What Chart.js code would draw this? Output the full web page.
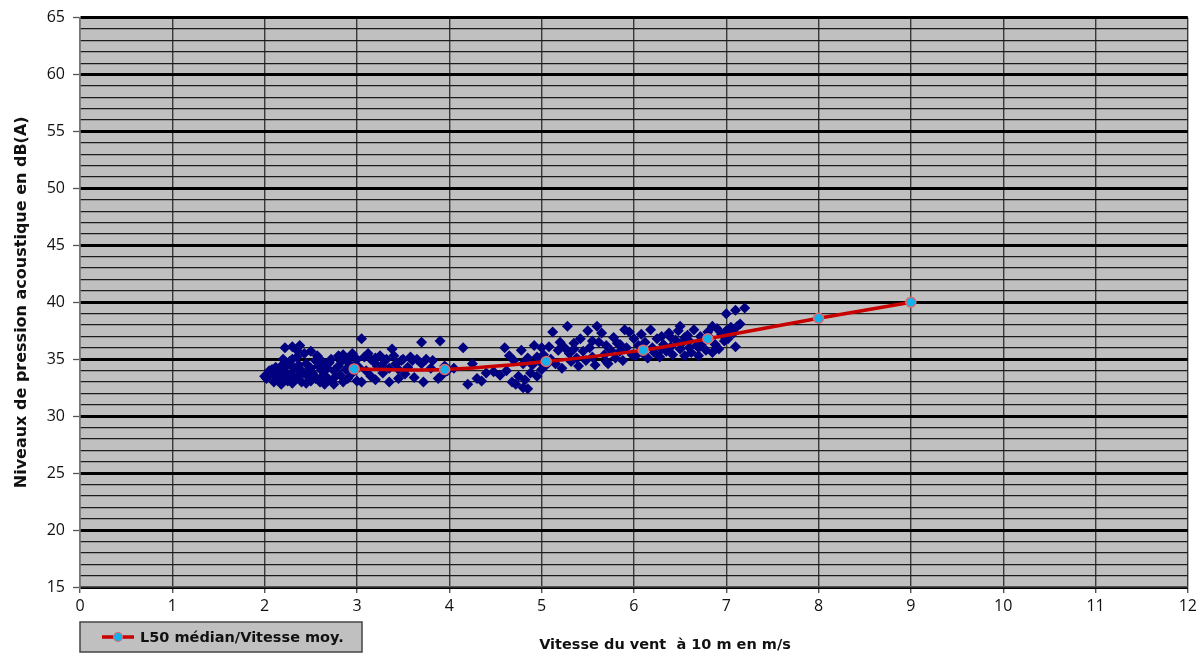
<!DOCTYPE html>
<html>
<head>
<meta charset="utf-8">
<title>L50 / vitesse du vent</title>
<script src="https://cdn.jsdelivr.net/npm/chart.js@4.4.1/dist/chart.umd.min.js"></script>
<style>
  html, body { margin: 0; padding: 0; background: #fff; }
  #wrap { width: 1201px; height: 659px; }
</style>
</head>
<body>
<div id="wrap"><canvas id="noiseChart"></canvas></div>
<script>
const scatterX = [
  2.00, 2.02, 2.05, 2.08, 2.10, 2.10, 2.12, 2.15, 2.15, 2.18, 2.20, 2.20, 2.22, 2.25, 2.25, 2.28, 2.30, 2.30, 2.30, 2.32,
  2.35, 2.35, 2.38, 2.40, 2.40, 2.42, 2.45, 2.45, 2.48, 2.50, 2.50, 2.50, 2.52, 2.55, 2.55, 2.58, 2.60, 2.60, 2.62, 2.65,
  2.65, 2.70, 2.70, 2.72, 2.75, 2.75, 2.80, 2.80, 2.82, 2.85, 2.85, 2.88, 2.90, 2.90, 2.92, 2.95, 2.95, 2.98, 3.00, 3.00,
  2.05, 2.13, 2.18, 2.23, 2.27, 2.33, 2.37, 2.43, 2.47, 2.53, 2.57, 2.63, 2.68, 2.77, 2.83, 2.87, 2.93, 2.20, 2.35, 2.60,
  3.02, 3.05, 3.05, 3.08, 3.10, 3.12, 3.15, 3.18, 3.20, 3.20, 3.22, 3.25, 3.28, 3.30, 3.32, 3.35, 3.35, 3.38, 3.40, 3.42,
  3.45, 3.48, 3.50, 3.52, 3.55, 3.60, 3.62, 3.65, 3.70, 3.70, 3.72, 3.75, 3.80, 3.82, 3.88, 3.90, 3.92, 3.95, 3.98,
  3.15, 3.27, 3.45, 3.58,
  4.05, 4.15, 4.20, 4.25, 4.30, 4.35, 4.40, 4.48, 4.55, 4.60, 4.62, 4.65, 4.68, 4.70, 4.72, 4.75, 4.78, 4.80, 4.80, 4.82,
  4.85, 4.85, 4.88, 4.90, 4.92, 4.95, 4.95, 4.98, 5.00, 5.00,
  5.02, 5.05, 5.08, 5.10, 5.12, 5.15, 5.18, 5.20, 5.22, 5.25, 5.28, 5.30, 5.32, 5.35, 5.38, 5.40, 5.42, 5.45, 5.48, 5.50,
  5.52, 5.55, 5.58, 5.60, 5.62, 5.65, 5.68, 5.70, 5.72, 5.75, 5.78, 5.80, 5.82, 5.85, 5.88, 5.90, 5.92, 5.95, 5.98, 6.00,
  5.35, 5.55, 5.70, 5.85,
  6.02, 6.05, 6.08, 6.10, 6.12, 6.15, 6.18, 6.20, 6.22, 6.25, 6.28, 6.30, 6.32, 6.35, 6.38, 6.40, 6.42, 6.45, 6.48, 6.50,
  6.50, 6.52, 6.55, 6.58, 6.60, 6.62, 6.65, 6.68, 6.70, 6.72, 6.75, 6.78, 6.80, 6.82, 6.85, 6.88, 6.90, 6.92, 6.95, 6.98,
  7.00, 7.00, 7.02, 7.05, 7.08, 7.10, 7.10, 7.12, 7.15, 7.20,
  6.30, 6.40, 6.55, 6.70, 6.85, 6.60
];
const scatterY = [
  33.5, 33.3, 33.8, 34.1, 33.6, 33.0, 34.3, 33.2, 33.9, 32.8, 34.0, 33.4, 36.0, 33.1, 34.5, 33.7, 36.1, 35.0, 32.9, 34.2,
  33.5, 35.2, 36.2, 34.0, 33.0, 33.8, 34.6, 32.9, 33.4, 35.7, 34.2, 33.1, 33.8, 34.9, 33.3, 34.4, 33.0, 35.0, 34.0, 33.6,
  32.8, 34.7, 33.2, 35.0, 34.0, 32.8, 34.4, 35.3, 33.6, 35.4, 33.0, 34.1, 35.0, 33.3, 34.6, 35.5, 33.8, 34.5, 33.1, 35.0,
  34.0, 33.5, 34.4, 33.6, 34.8, 33.3, 34.5, 35.5, 34.0, 33.6, 35.3, 34.6, 34.2, 33.5, 34.8, 35.0, 34.0, 35.0, 35.8, 33.3,
  34.3, 36.8, 33.0, 35.2, 34.0, 35.5, 33.5, 34.8, 35.1, 33.2, 34.4, 35.3, 33.8, 34.9, 35.0, 33.0, 34.2, 35.9, 35.3, 34.6,
  33.3, 34.9, 35.0, 33.7, 34.3, 34.9, 33.4, 35.0, 36.5, 34.6, 33.0, 35.0, 34.2, 34.9, 33.3, 36.6, 33.6, 34.4, 34.0,
  35.0, 34.5, 34.1, 35.2,
  34.2, 36.0, 32.8, 34.6, 33.3, 33.1, 33.8, 33.9, 33.6, 36.0, 34.0, 35.3, 33.0, 34.9, 32.8, 33.5, 35.8, 32.5, 34.6, 33.2,
  32.4, 35.1, 33.8, 34.5, 36.2, 33.5, 35.2, 34.8, 36.0, 34.1,
  35.4, 34.5, 36.1, 35.0, 37.4, 34.6, 35.8, 36.5, 34.2, 36.0, 37.9, 35.5, 34.8, 36.4, 35.1, 34.4, 36.8, 35.7, 34.9, 37.5,
  36.0, 35.2, 34.5, 37.9, 36.5, 37.3, 35.4, 36.2, 34.6, 35.8, 36.9, 35.1, 36.4, 35.7, 34.9, 37.6, 36.0, 37.4, 35.4, 36.8,
  35.9, 36.6, 34.8, 36.3,
  35.3, 36.2, 37.2, 35.5, 36.5, 35.1, 37.6, 36.0, 35.6, 36.8, 35.2, 37.0, 36.3, 35.7, 37.3, 36.1, 35.4, 36.7, 37.5, 37.9,
  35.9, 36.4, 35.3, 37.1, 36.6, 35.6, 37.6, 36.2, 35.3, 37.0, 36.5, 35.8, 37.4, 36.9, 37.9, 36.3, 37.7, 35.9, 37.2, 36.6,
  39.0, 37.5, 36.8, 37.8, 37.3, 39.3, 36.1, 37.9, 38.1, 39.5,
  35.9, 36.9, 36.9, 36.0, 35.6, 36.0
];

// Courbe L50 médian / vitesse moyenne
const lineX = [2.97, 3.95, 5.05, 6.10, 6.80, 8.00, 9.00];
const lineY = [34.15, 34.1, 34.8, 35.8, 36.8, 38.6, 40.0];

const xTicks = [0, 1, 2, 3, 4, 5, 6, 7, 8, 9, 10, 11, 12];
const yMajorTicks = [15, 20, 25, 30, 35, 40, 45, 50, 55, 60, 65];

const lineLabel = 'L50 médian/Vitesse moy.';
const xTitle = 'Vitesse du vent  à 10 m en m/s';
const yTitle = 'Niveaux de pression acoustique en dB(A)';

const scatterPoints = scatterX.map((x, i) => ({ x: x, y: scatterY[i] }));
const linePoints = lineX.map((x, i) => ({ x: x, y: lineY[i] }));

const RED = '#c80000';
const CYAN = '#14b0ec';
const NAVY = '#000080';
const PLOT_BG = '#c0c0c0';
const TITLE_FONT = '"DejaVu Sans", Verdana, sans-serif';

// fond gris de la zone de tracé
const plotBackground = {
  id: 'plotBackground',
  beforeDraw(chart) {
    const { ctx, chartArea: a } = chart;
    ctx.save();
    ctx.fillStyle = PLOT_BG;
    ctx.fillRect(a.left, a.top, a.right - a.left, a.bottom - a.top);
    ctx.restore();
  }
};

// légende façon Excel à gauche sous l'axe + titre de l'axe X sur la même ligne
const excelLegend = {
  id: 'excelLegend',
  afterDraw(chart) {
    const ctx = chart.ctx;
    const ds = chart.data.datasets[0];
    const left = 80, top = 622, w = 282, h = 30;
    ctx.save();
    ctx.fillStyle = PLOT_BG;
    ctx.fillRect(left, top, w, h);
    ctx.strokeStyle = '#444';
    ctx.lineWidth = 1.5;
    ctx.strokeRect(left, top, w, h);
    const cy = top + h / 2;
    ctx.strokeStyle = ds.borderColor;
    ctx.lineWidth = 3.5;
    ctx.beginPath();
    ctx.moveTo(102, cy);
    ctx.lineTo(134, cy);
    ctx.stroke();
    ctx.beginPath();
    ctx.arc(118, cy, 4.5, 0, Math.PI * 2);
    ctx.fillStyle = ds.pointBackgroundColor;
    ctx.fill();
    ctx.strokeStyle = ds.pointBorderColor;
    ctx.lineWidth = 1.2;
    ctx.stroke();
    ctx.fillStyle = '#111';
    ctx.font = 'bold 14.5px ' + TITLE_FONT;
    ctx.textBaseline = 'middle';
    ctx.fillText(ds.label, 140, cy + 1);

    ctx.textAlign = 'center';
    ctx.fillText(xTitle, 665, 645);
    ctx.restore();
  }
};

new Chart(document.getElementById('noiseChart'), {
  type: 'scatter',
  data: {
    datasets: [
      {
        type: 'line',
        label: lineLabel,
        data: linePoints,
        borderColor: RED,
        borderWidth: 3.5,
        tension: 0.35,
        pointRadius: 5,
        pointBackgroundColor: CYAN,
        pointBorderColor: '#e06a6a',
        pointBorderWidth: 1.5,
        fill: false,
        order: 1
      },
      {
        label: 'Mesures',
        data: scatterPoints,
        pointStyle: 'rectRot',
        pointRadius: 5.5,
        backgroundColor: NAVY,
        borderColor: NAVY,
        borderWidth: 0,
        order: 2
      }
    ]
  },
  options: {
    responsive: true,
    maintainAspectRatio: false,
    animation: false,
    layout: { padding: { left: 0, right: 10, top: 15, bottom: 0 } },
    plugins: {
      legend: { display: false },
      tooltip: { enabled: false }
    },
    scales: {
      x: {
        type: 'linear',
        min: 0,
        max: 12,
        afterBuildTicks: (scale) => { scale.ticks = xTicks.map(v => ({ value: v })); },
        afterFit: (scale) => { scale.height = 72; },
        ticks: {
          color: '#111',
          padding: 4,
          font: { family: '"Open Sans", Lato, sans-serif', size: 16 }
        },
        grid: {
          color: '#3a3a3a',
          lineWidth: 1.4,
          tickLength: 6,
          tickColor: '#555'
        },
        border: { color: '#555', width: 1.5 },
        title: { display: false, text: xTitle }
      },
      y: {
        type: 'linear',
        min: 15,
        max: 65,
        afterFit: (scale) => { scale.width = 80; },
        ticks: {
          stepSize: 1,
          autoSkip: false,
          color: '#111',
          padding: 8,
          font: { family: '"Open Sans", Lato, sans-serif', size: 16 },
          callback: (v) => (yMajorTicks.includes(v) ? v : '')
        },
        grid: {
          color: (c) => (c.tick && c.tick.value % 5 === 0 ? '#000' : '#1c1c1c'),
          lineWidth: (c) => (c.tick && c.tick.value % 5 === 0 ? 3 : 1.3),
          tickLength: 7,
          tickColor: (c) => (c.tick && c.tick.value % 5 === 0 ? '#555' : 'rgba(0,0,0,0)'),
          tickWidth: 1.3
        },
        border: { color: '#777', width: 1.5 },
        title: {
          display: true,
          text: yTitle,
          color: '#111',
          font: { family: TITLE_FONT, size: 16, weight: 'bold' },
          padding: { top: 12, bottom: 0 }
        }
      }
    }
  },
  plugins: [plotBackground, excelLegend]
});
</script>
</body>
</html>
